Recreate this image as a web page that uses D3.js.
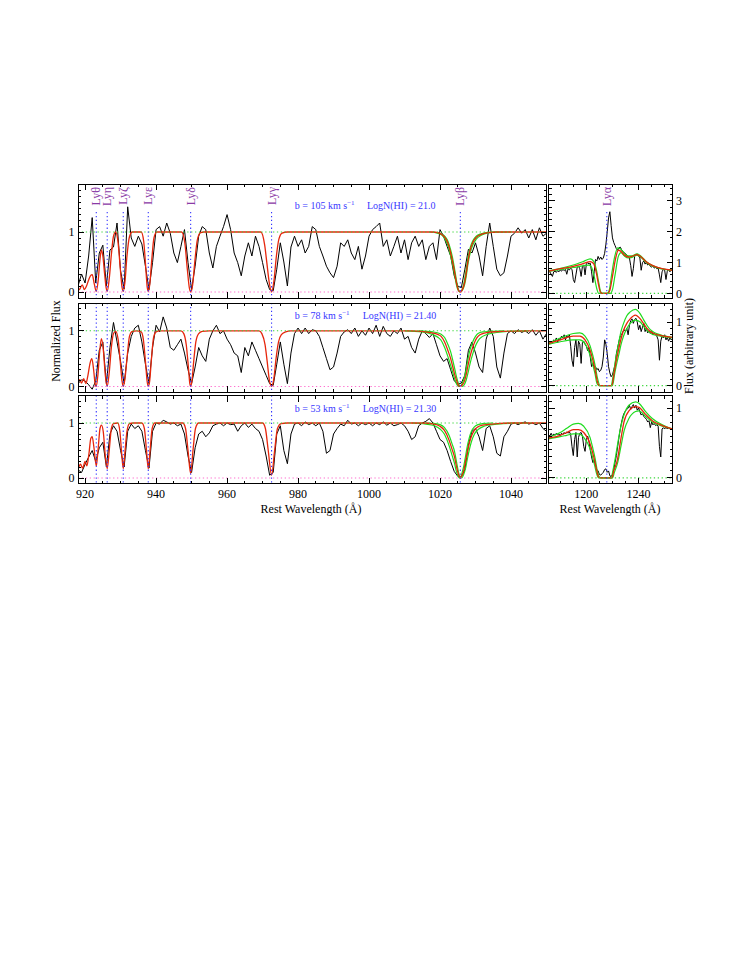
<!DOCTYPE html>
<html><head><meta charset="utf-8">
<script src="https://cdn.jsdelivr.net/npm/d3@7"></script>
<style>body{margin:0;background:#fff}</style>
</head><body>
<svg id="c" width="747" height="967"></svg>
<script>
// ---------------- DATA ----------------
const lymanNames = ["Lyθ","Lyη","Lyζ","Lyε","Lyδ","Lyγ","Lyβ"];
const lymanWave  = [923.15, 926.23, 930.75, 937.80, 949.74, 972.54, 1025.72];
const lyaName = "Lyα";
const lyaWave = 1215.67;

const bValues = ["105","78","53"];
const logNValues = ["21.0","21.40","21.30"];

const leftTickLabels  = [920, 940, 960, 980, 1000, 1020, 1040];
const rightTickLabels = [1200, 1240];

// observed spectra, left panels: 1 A grid 918..1050
const specLeft1 = [0.1,0.3,0.15,0.6,1.24,0.15,0.65,0.78,0.1,0.7,
0.75,1.15,0.35,0.05,1.42,0.9,0.76,0.93,0.8,0.43,
0.04,0.49,1.04,1.09,0.93,1.15,0.98,0.65,0.49,0.76,
1.04,0.49,0.04,0.43,0.93,1.09,1.04,0.65,0.4,0.76,
0.93,1.09,1.29,1.04,0.65,0.49,0.27,0.6,0.82,0.6,
0.93,0.76,0.49,0.21,0.04,0.02,0.38,0.82,0.5,0.1,
0.75,0.93,0.76,0.87,0.65,0.76,1.09,1.04,0.76,0.6,
0.43,0.32,0.24,0.43,0.82,0.76,0.87,0.65,0.54,0.76,
0.38,0.6,0.93,1.04,1.09,1.15,0.76,0.87,0.6,0.76,
0.93,0.65,0.87,0.54,0.82,0.93,0.76,0.87,0.54,0.76,
0.82,0.54,1.04,0.93,0.76,0.6,0.27,0.1,0.07,0.38,
0.71,0.65,0.82,0.6,0.27,0.76,1.15,0.76,0.38,0.27,
0.32,0.6,0.93,0.98,1.07,0.98,1.04,0.9,1.04,0.87,
1.07,0.93,0.98];
const specLeft2 = [0.05,0.12,0.1,0.03,-0.05,0.1,0.65,0.8,0.05,0.7,
1.15,0.8,0.45,0.05,0.6,0.9,1.05,1.1,0.8,0.4,
0.05,0.7,1.1,0.98,1.25,1.05,0.7,0.65,0.75,0.85,
0.6,0.3,0.05,0.35,0.7,0.55,0.45,0.85,1.0,1.1,
0.95,1.0,0.85,0.75,0.6,0.55,0.25,0.7,0.55,0.8,
0.65,0.5,0.35,0.2,0.05,0.02,0.4,0.8,0.4,0.05,
0.6,0.95,1.05,0.95,1.05,0.95,1.02,1.0,0.9,0.7,
0.5,0.3,0.35,0.6,0.9,0.98,1.02,0.95,1.05,0.9,
1.0,0.92,1.05,0.95,1.1,0.9,1.08,0.95,0.9,1.0,
0.95,1.05,0.85,0.9,0.7,0.6,0.85,1.0,0.95,0.88,
0.95,0.75,0.55,0.45,0.5,0.3,0.1,0.04,0.06,0.2,
0.65,0.8,0.6,0.35,0.25,0.85,1.05,0.9,0.35,0.15,
0.6,0.95,1.0,0.95,1.02,0.97,1.0,0.95,1.02,0.92,
1.0,0.85,0.95];
const specLeft3 = [0.15,0.1,0.25,0.38,0.5,0.3,0.55,0.65,0.2,0.8,
0.95,0.85,0.5,0.2,0.85,0.98,0.9,0.95,0.85,0.5,
0.18,0.85,1.0,0.98,1.05,1.02,0.98,1.0,0.95,0.98,
0.8,0.4,0.1,0.55,0.8,0.85,0.75,0.82,0.95,0.98,
1.0,0.95,1.0,0.97,0.98,0.85,0.95,1.0,0.92,0.98,
0.9,0.85,0.7,0.4,0.05,0.1,0.8,0.95,0.5,0.26,
0.8,0.98,1.0,0.95,1.02,0.97,1.0,0.95,1.0,0.85,
0.45,0.5,0.8,0.9,0.98,0.95,1.05,0.98,1.0,0.95,
1.0,0.97,1.0,0.95,1.0,0.97,1.02,0.96,1.0,0.95,
0.97,1.0,0.95,0.85,0.7,0.75,0.95,1.0,1.03,1.08,
1.0,0.85,0.7,0.65,0.5,0.3,0.12,0.03,0.02,0.15,
0.6,0.85,0.9,0.75,0.5,0.9,0.95,0.75,0.45,0.4,
0.75,0.85,0.98,1.0,0.97,1.0,1.02,0.98,1.0,0.97,
1.0,0.9,0.85];

// observed spectra, right panels: 1 A grid 1171..1266
const specRight1 = [0.72,0.7,0.62,0.55,0.7,0.72,0.68,0.74,0.7,0.76,
0.72,0.78,0.74,0.78,0.62,0.8,0.76,0.82,0.78,0.45,
0.35,0.6,0.85,0.88,0.8,0.55,0.88,0.92,0.6,0.95,
1.0,0.95,0.98,0.7,0.35,0.7,1.1,1.05,1.2,1.1,
1.18,1.1,1.15,1.3,1.6,2.0,2.45,2.65,2.2,1.8,
1.65,1.55,1.45,1.4,1.48,1.5,1.42,1.35,1.33,1.28,
1.25,1.2,1.15,0.9,0.55,0.8,1.2,1.25,1.28,1.22,
1.15,0.75,1.0,1.05,0.95,1.0,0.92,0.95,0.88,0.85,
0.9,0.82,0.85,0.8,0.82,0.6,0.35,0.7,0.78,0.75,
0.45,0.72,0.78,0.7,0.75,0.78];
const specRight2 = [0.68,0.66,0.7,0.67,0.72,0.7,0.75,0.68,0.74,0.72,
0.78,0.75,0.8,0.72,0.78,0.76,0.8,0.62,0.4,0.3,
0.6,0.72,0.45,0.7,0.65,0.35,0.68,0.7,0.65,0.62,
0.55,0.6,0.45,0.3,0.35,0.28,0.3,0.25,0.27,0.22,
0.24,0.3,0.45,0.72,0.65,0.5,0.3,0.2,0.14,0.17,
0.25,0.33,0.5,0.6,0.7,0.78,0.8,0.85,0.88,0.85,
0.9,0.8,0.95,1.02,1.05,0.98,1.04,1.06,1.0,0.88,
0.95,0.85,0.92,0.98,0.85,0.9,0.83,0.86,0.82,0.85,
0.8,0.82,0.8,0.78,0.72,0.4,0.7,0.78,0.75,0.8,
0.72,0.76,0.7,0.75,0.72,0.74];
const specRight3 = [0.62,0.6,0.64,0.6,0.63,0.61,0.64,0.62,0.63,0.6,
0.64,0.62,0.65,0.63,0.66,0.64,0.66,0.62,0.45,0.32,
0.55,0.65,0.3,0.58,0.64,0.65,0.6,0.45,0.38,0.55,
0.6,0.52,0.4,0.3,0.22,0.25,0.18,0.12,0.1,0.05,
0.04,0.06,0.08,0.12,0.13,0.08,0.1,0.03,0.02,0.05,
0.12,0.22,0.32,0.45,0.58,0.7,0.8,0.88,0.93,0.96,
0.98,1.0,1.04,0.98,1.02,1.05,1.0,1.04,0.97,1.0,
0.95,0.9,0.92,0.88,0.86,0.84,0.8,0.82,0.72,0.8,
0.76,0.78,0.75,0.76,0.74,0.45,0.3,0.7,0.72,0.7,
0.73,0.7,0.72,0.7,0.71,0.7];

// model fits [wavelength, flux]
const modelLeft1 = [[918,0.03],[918.5,0.05],[919.2,0.12],[919.8,0.04],[920.4,0.1],[921,0.2],[921.5,0.27],[922,0.29],[922.6,0.13],[923.15,0.01],[923.7,0.2],[924.2,0.55],[924.6,0.7],[925.0,0.6],[925.5,0.3],[925.9,0.08],[926.23,0.01],[926.8,0.22],[927.4,0.62],[928.0,0.93],[928.6,1.0],[929.3,0.82],[929.9,0.4],[930.4,0.08],[930.75,0.01],[931.2,0.15],[931.8,0.6],[932.5,0.92],[933.3,1.0],[935.8,1.0],[936.5,0.85],[937.1,0.4],[937.5,0.08],[937.8,0.01],[938.2,0.12],[938.8,0.55],[939.4,0.9],[940.2,1.0],[947.2,1.0],[948.1,0.82],[948.8,0.38],[949.4,0.06],[949.74,0.0],[950.3,0.12],[950.9,0.5],[951.6,0.86],[952.5,0.99],[953.5,1.0],[969.5,1.0],[970.6,0.78],[971.2,0.49],[971.9,0.15],[972.54,0.0],[973.2,0.18],[973.9,0.6],[974.6,0.88],[975.5,0.98],[977,1.0],[1018,1.0],[1019.4,0.99],[1020.5,0.96],[1021.5,0.9],[1022.2,0.82],[1023,0.65],[1023.6,0.49],[1024.2,0.3],[1024.7,0.13],[1025.2,0.03],[1025.72,0.0],[1026.3,0.04],[1026.9,0.15],[1027.4,0.32],[1027.8,0.49],[1028.5,0.7],[1029.2,0.82],[1030.2,0.91],[1031.6,0.96],[1033.5,0.99],[1036,1.0],[1050,1.0]];
const modelLeft2 = [[918,0.07],[918.5,0.12],[919,0.06],[919.6,0.14],[920.2,0.05],[920.8,0.2],[921.4,0.42],[921.9,0.5],[922.4,0.3],[922.8,0.06],[923.15,0.0],[923.6,0.2],[924.1,0.62],[924.6,0.86],[925.1,0.68],[925.7,0.2],[926.23,0.0],[926.8,0.25],[927.4,0.7],[928.0,0.95],[928.6,0.99],[929.3,0.85],[929.9,0.45],[930.4,0.1],[930.75,0.0],[931.2,0.12],[931.8,0.5],[932.5,0.9],[933.3,0.99],[934.5,1.0],[935.8,0.98],[936.4,0.85],[937.0,0.45],[937.5,0.08],[937.8,0.0],[938.2,0.1],[938.7,0.5],[939.3,0.88],[940,0.98],[941,1.0],[947,1.0],[947.8,0.95],[948.5,0.75],[949.1,0.35],[949.5,0.05],[949.74,0.0],[950.1,0.1],[950.6,0.45],[951.2,0.8],[952,0.95],[953,0.99],[955,1.0],[969,1.0],[969.8,0.95],[970.7,0.75],[971.3,0.45],[971.9,0.12],[972.54,0.0],[973.2,0.15],[973.8,0.5],[974.5,0.8],[975.3,0.93],[976.5,0.98],[978,1.0],[1012,1.0],[1016,0.98],[1018,0.96],[1019.5,0.93],[1020.3,0.9],[1021.3,0.8],[1022.2,0.65],[1023,0.5],[1023.6,0.35],[1024.2,0.2],[1024.7,0.1],[1025.2,0.02],[1025.72,0.0],[1026.3,0.03],[1026.9,0.1],[1027.4,0.22],[1027.8,0.35],[1028.5,0.55],[1029.2,0.7],[1030,0.83],[1030.7,0.9],[1032,0.95],[1033.5,0.97],[1036,0.985],[1040,0.995],[1050,1.0]];
const modelLeft3 = [[918,0.15],[918.7,0.25],[919.3,0.18],[920,0.3],[920.5,0.22],[921.1,0.45],[921.6,0.72],[922,0.75],[922.5,0.55],[923.15,0.22],[923.7,0.55],[924.2,0.9],[924.6,0.96],[925.1,0.85],[925.7,0.4],[926.23,0.17],[926.8,0.5],[927.4,0.9],[928,0.99],[929.2,1.0],[929.8,0.85],[930.3,0.45],[930.75,0.17],[931.2,0.45],[931.8,0.85],[932.5,0.99],[933.5,1.0],[936,1.0],[936.7,0.9],[937.3,0.5],[937.8,0.17],[938.3,0.5],[938.9,0.9],[939.6,1.0],[947.5,1.0],[948.3,0.9],[949,0.5],[949.74,0.08],[950.4,0.5],[951.1,0.9],[952,1.0],[970,1.0],[970.8,0.9],[971.6,0.5],[972.54,0.05],[973.4,0.5],[974.2,0.9],[975.2,0.99],[977,1.0],[1015,1.0],[1018.4,0.98],[1020,0.94],[1021.2,0.87],[1022.6,0.68],[1023.4,0.52],[1024.1,0.38],[1024.6,0.22],[1025,0.11],[1025.4,0.03],[1025.72,0.0],[1026.2,0.05],[1026.7,0.14],[1027.2,0.3],[1027.6,0.44],[1028.2,0.62],[1028.8,0.75],[1029.7,0.87],[1030.7,0.93],[1032,0.96],[1033.5,0.975],[1036,0.99],[1040,1.0],[1050,1.0]];

// green error-envelope fits near Ly-beta (left) and Ly-alpha (right)
const greenLeft1a = [[1017,1.0],[1019,0.985],[1020.5,0.95],[1021.5,0.87],[1022.2,0.78],[1023,0.6],[1023.6,0.44],[1024.2,0.25],[1024.7,0.1],[1025.2,0.02],[1025.72,0],[1026.3,0.03],[1026.9,0.12],[1027.4,0.27],[1027.8,0.44],[1028.5,0.65],[1029.2,0.78],[1030.2,0.88],[1031.6,0.945],[1033.5,0.985],[1036,0.998],[1040,1.0]];
const greenLeft1b = [[1018,1.0],[1020,0.975],[1021.5,0.92],[1022.2,0.85],[1023,0.7],[1023.6,0.55],[1024.2,0.35],[1024.7,0.17],[1025.2,0.04],[1025.72,0],[1026.3,0.05],[1026.9,0.2],[1027.4,0.38],[1027.8,0.55],[1028.5,0.74],[1029.2,0.85],[1030.2,0.93],[1031.6,0.97],[1033.5,0.995],[1036,1.0]];
const greenLeft2a = [[1010,1.0],[1015,0.98],[1018,0.93],[1019.5,0.88],[1020.3,0.83],[1021.3,0.7],[1022.2,0.54],[1023,0.38],[1023.6,0.25],[1024.2,0.12],[1024.7,0.04],[1025.2,0.0],[1026.3,0.0],[1026.9,0.04],[1027.4,0.12],[1027.8,0.22],[1028.5,0.42],[1029.2,0.58],[1030,0.73],[1030.7,0.82],[1032,0.9],[1033.5,0.94],[1036,0.97],[1040,0.99],[1045,1.0]];
const greenLeft2b = [[1014,1.0],[1018,0.98],[1019.5,0.96],[1020.3,0.94],[1021.3,0.88],[1022.2,0.76],[1023,0.62],[1023.6,0.47],[1024.2,0.3],[1024.7,0.16],[1025.2,0.05],[1025.72,0.0],[1026.3,0.06],[1026.9,0.17],[1027.4,0.32],[1027.8,0.47],[1028.5,0.67],[1029.2,0.8],[1030,0.9],[1030.7,0.95],[1032,0.98],[1034,0.99],[1038,1.0]];
const greenLeft3a = [[1012,1.0],[1016,0.98],[1018.4,0.95],[1020,0.89],[1021.2,0.8],[1022.6,0.58],[1023.4,0.41],[1024.1,0.26],[1024.6,0.12],[1025.0,0.05],[1025.4,0.0],[1026.1,0.0],[1026.7,0.07],[1027.2,0.18],[1027.6,0.31],[1028.2,0.5],[1028.8,0.65],[1029.7,0.8],[1030.7,0.88],[1032,0.93],[1033.5,0.96],[1036,0.98],[1040,0.995],[1045,1.0]];
const greenLeft3b = [[1016,1.0],[1018.4,0.99],[1020,0.97],[1021.2,0.92],[1022.6,0.77],[1023.4,0.62],[1024.1,0.48],[1024.6,0.31],[1025.0,0.17],[1025.4,0.05],[1025.72,0.0],[1026.1,0.07],[1026.7,0.22],[1027.2,0.4],[1027.6,0.55],[1028.2,0.72],[1028.8,0.84],[1029.7,0.93],[1030.7,0.97],[1032,0.99],[1035,1.0]];

const modelRight1 = [[1171,0.72],[1180,0.8],[1190,0.88],[1198,0.97],[1203,1.03],[1205.5,0.97],[1207.5,0.7],[1209.5,0.25],[1211,0.02],[1212,0.0],[1216.5,0.0],[1218,0.1],[1220,0.55],[1222,1.05],[1224.5,1.4],[1226,1.38],[1229,1.25],[1232,1.18],[1235,1.2],[1238.8,1.26],[1242,1.18],[1246,1.02],[1251.5,0.89],[1258,0.8],[1266,0.75]];
const greenRight1a = [[1171,0.73],[1190,0.92],[1198,1.04],[1203,1.12],[1205.5,1.05],[1207.5,0.8],[1209.5,0.35],[1211,0.05],[1212.5,0.0],[1216,0.0],[1217.5,0.1],[1219.5,0.65],[1221.5,1.15],[1224,1.48],[1226,1.45],[1229,1.3],[1232,1.22],[1235,1.22],[1238.8,1.28],[1242,1.2],[1246,1.03],[1258,0.8],[1266,0.76]];
const greenRight1b = [[1171,0.71],[1190,0.84],[1198,0.9],[1202,0.92],[1204,0.85],[1206,0.55],[1208,0.15],[1209.5,0.0],[1218.5,0.0],[1220,0.12],[1222,0.6],[1224.5,1.2],[1226.5,1.32],[1229,1.22],[1232,1.15],[1235,1.17],[1238.8,1.24],[1242,1.16],[1246,1.0],[1258,0.79],[1266,0.75]];
const modelRight2 = [[1171,0.66],[1180,0.72],[1190,0.78],[1195,0.78],[1199,0.72],[1202.8,0.56],[1205,0.4],[1206.7,0.25],[1208.5,0.06],[1210,0.0],[1219.5,0.0],[1221.3,0.2],[1223,0.4],[1224.6,0.56],[1226.5,0.73],[1228.5,0.87],[1231,0.98],[1233.6,1.05],[1237.5,1.11],[1241.3,1.05],[1244,0.97],[1246.4,0.9],[1249,0.85],[1251.6,0.82],[1256.7,0.79],[1266,0.76]];
const greenRight2a = [[1171,0.67],[1180,0.75],[1190,0.82],[1195,0.83],[1199,0.78],[1202.8,0.63],[1205,0.47],[1206.7,0.32],[1208.5,0.12],[1210.5,0.0],[1219,0.0],[1220.5,0.15],[1222.5,0.42],[1224.6,0.65],[1226.5,0.85],[1228.5,0.98],[1231,1.1],[1233.6,1.16],[1237.5,1.2],[1241.3,1.13],[1244,1.03],[1246.4,0.95],[1249,0.88],[1251.6,0.84],[1256.7,0.8],[1266,0.76]];
const greenRight2b = [[1171,0.65],[1180,0.69],[1190,0.72],[1195,0.72],[1199,0.66],[1202.8,0.48],[1205,0.32],[1206.7,0.18],[1208,0.04],[1209.5,0.0],[1220,0.0],[1221.8,0.2],[1223.5,0.37],[1225,0.5],[1226.5,0.64],[1228.5,0.78],[1231,0.9],[1233.6,0.98],[1237.5,1.03],[1241.3,1.0],[1244,0.93],[1246.4,0.87],[1249,0.83],[1251.6,0.8],[1256.7,0.78],[1266,0.75]];
const modelRight3 = [[1171,0.57],[1180,0.61],[1185,0.65],[1190,0.69],[1194,0.69],[1198,0.65],[1202.8,0.49],[1205,0.35],[1206.7,0.22],[1208,0.1],[1209.5,0.01],[1211,0.0],[1219.5,0.0],[1221,0.1],[1223.7,0.25],[1226.2,0.53],[1228.8,0.8],[1232.6,0.96],[1237.7,1.02],[1240.3,1.01],[1245.4,0.91],[1250.5,0.82],[1258.2,0.75],[1266,0.7]];
const greenRight3a = [[1171,0.58],[1180,0.65],[1185,0.71],[1190,0.77],[1194,0.78],[1198,0.74],[1202.8,0.58],[1205,0.42],[1206.7,0.28],[1208.2,0.12],[1209.8,0.02],[1211.5,0.0],[1219,0.0],[1220.5,0.12],[1222.5,0.32],[1225.5,0.65],[1228.8,0.9],[1232.6,1.04],[1237.7,1.09],[1240.3,1.07],[1245.4,0.95],[1250.5,0.85],[1258.2,0.76],[1266,0.7]];
const greenRight3b = [[1171,0.56],[1180,0.59],[1185,0.61],[1190,0.63],[1194,0.63],[1198,0.58],[1202.8,0.42],[1205,0.28],[1206.7,0.15],[1208,0.05],[1209.5,0.0],[1220,0.0],[1221.5,0.08],[1224,0.22],[1226.5,0.45],[1229,0.68],[1232.6,0.85],[1237.7,0.95],[1240.3,0.96],[1245.4,0.88],[1250.5,0.8],[1258.2,0.74],[1266,0.7]];

// ---------------- LAYOUT ----------------
const leftWave = d3.range(918, 1051);
const rightWave = d3.range(1171, 1267);
const LX = [78, 546.5], RX = [548.5, 672.5];
const rowsY = [[184, 298], [303, 392], [395.5, 483.5]];
const leftYDom = [[-0.1, 1.8], [-0.1, 1.5], [-0.1, 1.5]];
const rightYDom = [[-0.15, 3.55], [-0.1, 1.3], [-0.08, 1.18]];
const annB = [979.1, 979.1, 979.1];
const annN = [999.4, 998.2, 998.2];

const C = {
  spec: "#000", red: "#e6260c", green: "#1fdc1f",
  gdot: "#3fd83f", pdot: "#ff6fcf", bdot: "#3434ff",
  label: "#8a3aa6", ann: "#3838ff"
};
const FONT = "'Liberation Serif','Times New Roman',serif";

const svg = d3.select("#c");
svg.append("rect").attr("width", 747).attr("height", 967).attr("fill", "#fff");

function ticksFor(lo, hi, step) {
  const out = [];
  const s = Math.ceil(lo / step - 1e-9), e = Math.floor(hi / step + 1e-9);
  for (let i = s; i <= e; i++) out.push(+(i * step).toFixed(6));
  return out;
}

let clipId = 0;
function panel(cfg) {
  const x = d3.scaleLinear().domain(cfg.xDom).range(cfg.xr);
  const y = d3.scaleLinear().domain(cfg.yDom).range([cfg.yr[1], cfg.yr[0]]);
  const g = svg.append("g");
  const id = "clip" + (clipId++);
  g.append("clipPath").attr("id", id).append("rect")
    .attr("x", cfg.xr[0]).attr("y", cfg.yr[0])
    .attr("width", cfg.xr[1] - cfg.xr[0]).attr("height", cfg.yr[1] - cfg.yr[0]);
  const inner = g.append("g").attr("clip-path", `url(#${id})`);

  const lineLin = d3.line().x(d => x(d[0])).y(d => y(d[1]));
  inner.append("path").datum(cfg.wave.map((w, i) => [w, cfg.spec[i]]))
    .attr("d", lineLin).attr("fill", "none").attr("stroke", C.spec)
    .attr("stroke-width", 1).attr("stroke-linejoin", "round");

  const lineSmooth = d3.line().curve(d3.curveMonotoneX).x(d => x(d[0])).y(d => y(d[1]));
  cfg.greens.forEach(gr => {
    inner.append("path").datum(gr).attr("d", lineSmooth).attr("fill", "none")
      .attr("stroke", C.green).attr("stroke-width", 1.2);
  });
  inner.append("path").datum(cfg.model).attr("d", lineSmooth).attr("fill", "none")
    .attr("stroke", C.red).attr("stroke-width", 1.3);

  cfg.hlines.forEach(h => {
    inner.append("line").attr("x1", cfg.xr[0]).attr("x2", cfg.xr[1])
      .attr("y1", y(h.v)).attr("y2", y(h.v))
      .attr("stroke", h.c).attr("stroke-width", 1.1).attr("stroke-dasharray", "1.3,2.6");
  });
  cfg.vlines.forEach(v => {
    inner.append("line").attr("x1", x(v)).attr("x2", x(v))
      .attr("y1", cfg.vTop).attr("y2", cfg.yr[1])
      .attr("stroke", C.bdot).attr("stroke-width", 1.1).attr("stroke-dasharray", "1.3,2.6");
  });
  if (cfg.labels) {
    cfg.labels.forEach((t, i) => {
      g.append("text").attr("transform", `translate(${x(cfg.vlines[i])},${cfg.yr[0] + 3}) rotate(-90)`)
        .attr("text-anchor", "end").attr("dy", "0.33em")
        .attr("font-family", FONT).attr("font-size", 12).attr("fill", C.label).text(t);
    });
  }

  const tg = g.append("g").attr("stroke", "#000").attr("stroke-width", 1).attr("shape-rendering", "crispEdges");
  tg.append("rect").attr("x", cfg.xr[0]).attr("y", cfg.yr[0])
    .attr("width", cfg.xr[1] - cfg.xr[0]).attr("height", cfg.yr[1] - cfg.yr[0]).attr("fill", "none");
  const xMaj = ticksFor(cfg.xDom[0], cfg.xDom[1], cfg.xMajor);
  const xMin = ticksFor(cfg.xDom[0], cfg.xDom[1], cfg.xMinor);
  const yMaj = ticksFor(cfg.yDom[0], cfg.yDom[1], cfg.yMajor);
  const yMin = ticksFor(cfg.yDom[0], cfg.yDom[1], cfg.yMinor);
  xMin.forEach(v => {
    const L = xMaj.includes(v) ? 6 : 3;
    tg.append("line").attr("x1", x(v)).attr("x2", x(v)).attr("y1", cfg.yr[1]).attr("y2", cfg.yr[1] - L);
    tg.append("line").attr("x1", x(v)).attr("x2", x(v)).attr("y1", cfg.yr[0]).attr("y2", cfg.yr[0] + L);
  });
  yMin.forEach(v => {
    const L = yMaj.includes(v) ? 6 : 3;
    tg.append("line").attr("y1", y(v)).attr("y2", y(v)).attr("x1", cfg.xr[0]).attr("x2", cfg.xr[0] + L);
    tg.append("line").attr("y1", y(v)).attr("y2", y(v)).attr("x1", cfg.xr[1]).attr("x2", cfg.xr[1] - L);
  });
  if (cfg.yLabelSide === "left") {
    yMaj.forEach(v => g.append("text").attr("x", cfg.xr[0] - 3.5).attr("y", y(v)).attr("dy", "0.35em")
      .attr("text-anchor", "end").attr("font-family", FONT).attr("font-size", 12).text(v));
  } else {
    yMaj.forEach(v => g.append("text").attr("x", cfg.xr[1] + 3.5).attr("y", y(v)).attr("dy", "0.35em")
      .attr("text-anchor", "start").attr("font-family", FONT).attr("font-size", 12).text(v));
  }
  if (cfg.xLabels) {
    cfg.xLabels.forEach(v => g.append("text").attr("x", x(v)).attr("y", cfg.yr[1] + 14.5)
      .attr("text-anchor", "middle").attr("font-family", FONT).attr("font-size", 12).text(v));
  }
  return {x, y, g};
}

const leftSpecs = [specLeft1, specLeft2, specLeft3];
const leftModels = [modelLeft1, modelLeft2, modelLeft3];
const leftGreens = [[greenLeft1a, greenLeft1b], [greenLeft2a, greenLeft2b], [greenLeft3a, greenLeft3b]];
const rightSpecs = [specRight1, specRight2, specRight3];
const rightModels = [modelRight1, modelRight2, modelRight3];
const rightGreens = [[greenRight1a, greenRight1b], [greenRight2a, greenRight2b], [greenRight3a, greenRight3b]];

for (let r = 0; r < 3; r++) {
  const P = panel({
    xDom: [918, 1050], xr: LX, yDom: leftYDom[r], yr: rowsY[r],
    wave: leftWave, spec: leftSpecs[r], model: leftModels[r], greens: leftGreens[r],
    hlines: [{v: 1, c: C.gdot}, {v: 0, c: C.pdot}],
    vlines: lymanWave, vTop: r === 0 ? rowsY[r][0] + 28 : rowsY[r][0],
    labels: r === 0 ? lymanNames : null,
    xMajor: 20, xMinor: 5, yMajor: 1, yMinor: 0.1, yLabelSide: "left",
    xLabels: r === 2 ? leftTickLabels : null
  });
  const ty = rowsY[r][0] + (r === 0 ? 25 : 16);
  const ann = P.g.append("text").attr("x", P.x(annB[r])).attr("y", ty)
    .attr("font-family", FONT).attr("font-size", 10).attr("fill", C.ann);
  ann.append("tspan").text(`b = ${bValues[r]} km s`);
  ann.append("tspan").attr("dy", -4).attr("font-size", 7).text("−1");
  P.g.append("text").attr("y", ty).attr("font-family", FONT).attr("font-size", 10).attr("fill", C.ann)
    .attr("x", P.x(annN[r])).text(`LogN(HI) = ${logNValues[r]}`);

  panel({
    xDom: [1171, 1266], xr: RX, yDom: rightYDom[r], yr: rowsY[r],
    wave: rightWave, spec: rightSpecs[r], model: rightModels[r], greens: rightGreens[r],
    hlines: [{v: 0, c: C.gdot}],
    vlines: [lyaWave], vTop: r === 0 ? rowsY[r][0] + 28 : rowsY[r][0],
    labels: r === 0 ? [lyaName] : null,
    xMajor: 40, xMinor: 10, yMajor: 1, yMinor: r === 0 ? 0.2 : 0.1, yLabelSide: "right",
    xLabels: r === 2 ? rightTickLabels : null
  });
}

svg.append("text").attr("transform", "translate(60,341) rotate(-90)").attr("text-anchor", "middle")
  .attr("font-family", FONT).attr("font-size", 12).text("Normalized Flux");
svg.append("text").attr("transform", "translate(693,346) rotate(-90)").attr("text-anchor", "middle")
  .attr("font-family", FONT).attr("font-size", 12).text("Flux (arbitrary unit)");
svg.append("text").attr("x", 311).attr("y", 513).attr("text-anchor", "middle")
  .attr("font-family", FONT).attr("font-size", 12).text("Rest Wavelength (Å)");
svg.append("text").attr("x", 610).attr("y", 513).attr("text-anchor", "middle")
  .attr("font-family", FONT).attr("font-size", 12).text("Rest Wavelength (Å)");
</script>
</body></html>
